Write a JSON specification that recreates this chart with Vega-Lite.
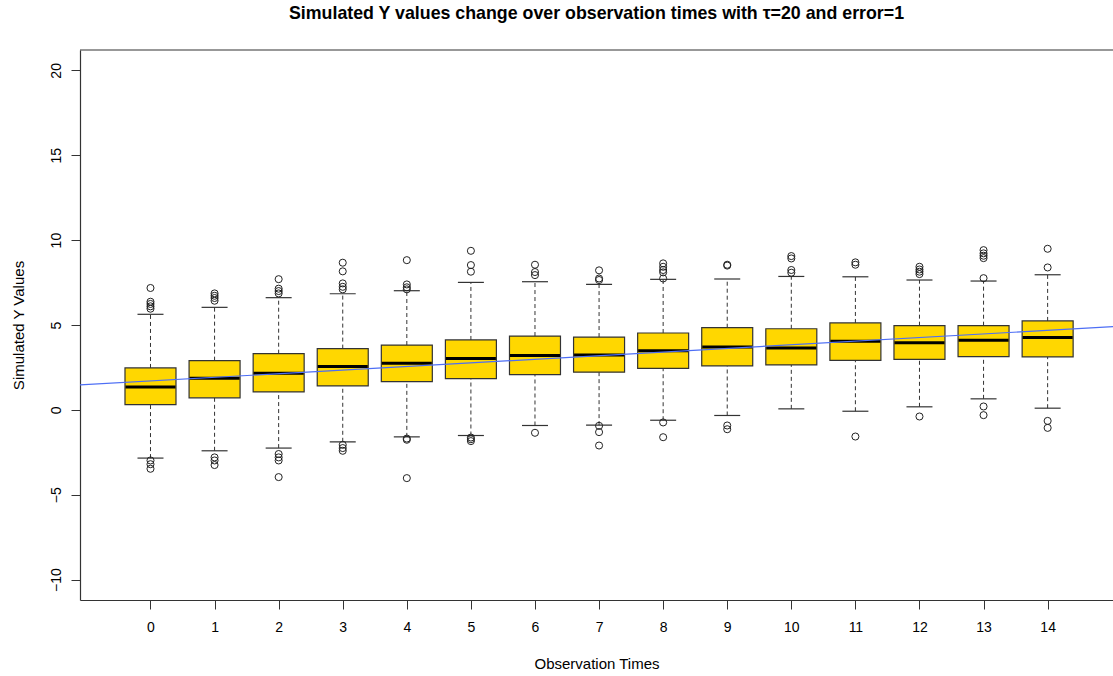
{
  "$schema": "https://vega.github.io/schema/vega-lite/v6.json",
  "width": 1033,
  "height": 550,
  "autosize": {"type": "none"},
  "padding": {"left": 80, "top": 50, "right": 0, "bottom": 76},
  "background": "white",
  "config": {"view": {"stroke": null}, "font": "Liberation Sans"},
  "title": {"text": "Simulated Y values change over observation times with τ=20 and error=1", "fontSize": 17.8, "fontWeight": "bold", "font": "Liberation Sans", "color": "#000", "anchor": "middle", "offset": 27},
  "datasets": {
    "boxes": [
      {"t": 0, "lo": -2.84, "q1": 0.31, "med": 1.35, "q3": 2.47, "hi": 5.63},
      {"t": 1, "lo": -2.41, "q1": 0.71, "med": 1.86, "q3": 2.9, "hi": 6.04},
      {"t": 2, "lo": -2.25, "q1": 1.06, "med": 2.16, "q3": 3.31, "hi": 6.61},
      {"t": 3, "lo": -1.88, "q1": 1.41, "med": 2.55, "q3": 3.61, "hi": 6.84},
      {"t": 4, "lo": -1.59, "q1": 1.67, "med": 2.75, "q3": 3.82, "hi": 7.02},
      {"t": 5, "lo": -1.51, "q1": 1.84, "med": 3.02, "q3": 4.12, "hi": 7.51},
      {"t": 6, "lo": -0.92, "q1": 2.08, "med": 3.2, "q3": 4.35, "hi": 7.55},
      {"t": 7, "lo": -0.9, "q1": 2.22, "med": 3.24, "q3": 4.29, "hi": 7.39},
      {"t": 8, "lo": -0.61, "q1": 2.45, "med": 3.49, "q3": 4.53, "hi": 7.69},
      {"t": 9, "lo": -0.33, "q1": 2.59, "med": 3.71, "q3": 4.84, "hi": 7.71},
      {"t": 10, "lo": 0.06, "q1": 2.65, "med": 3.65, "q3": 4.78, "hi": 7.86},
      {"t": 11, "lo": -0.08, "q1": 2.92, "med": 4.04, "q3": 5.12, "hi": 7.84},
      {"t": 12, "lo": 0.18, "q1": 2.98, "med": 3.96, "q3": 4.96, "hi": 7.65},
      {"t": 13, "lo": 0.65, "q1": 3.14, "med": 4.1, "q3": 4.96, "hi": 7.59},
      {"t": 14, "lo": 0.1, "q1": 3.12, "med": 4.27, "q3": 5.24, "hi": 7.96}
    ],
    "outliers": [
      {"t": 0, "v": 7.18}, {"t": 0, "v": 6.37}, {"t": 0, "v": 6.24}, {"t": 0, "v": 6.1}, {"t": 0, "v": 5.96}, {"t": 0, "v": -2.98}, {"t": 0, "v": -3.2}, {"t": 0, "v": -3.47},
      {"t": 1, "v": 6.86}, {"t": 1, "v": 6.72}, {"t": 1, "v": 6.59}, {"t": 1, "v": 6.43}, {"t": 1, "v": -2.8}, {"t": 1, "v": -2.98}, {"t": 1, "v": -3.25},
      {"t": 2, "v": 7.7}, {"t": 2, "v": 7.14}, {"t": 2, "v": 7.0}, {"t": 2, "v": 6.86}, {"t": 2, "v": -2.6}, {"t": 2, "v": -2.8}, {"t": 2, "v": -2.98}, {"t": 2, "v": -3.96},
      {"t": 3, "v": 8.67}, {"t": 3, "v": 8.16}, {"t": 3, "v": 7.45}, {"t": 3, "v": 7.25}, {"t": 3, "v": 7.1}, {"t": 3, "v": -2.06}, {"t": 3, "v": -2.25}, {"t": 3, "v": -2.41},
      {"t": 4, "v": 8.82}, {"t": 4, "v": 7.39}, {"t": 4, "v": 7.22}, {"t": 4, "v": 7.1}, {"t": 4, "v": -1.69}, {"t": 4, "v": -1.76}, {"t": 4, "v": -4.02},
      {"t": 5, "v": 9.37}, {"t": 5, "v": 8.53}, {"t": 5, "v": 8.14}, {"t": 5, "v": -1.63}, {"t": 5, "v": -1.73}, {"t": 5, "v": -1.84},
      {"t": 6, "v": 8.55}, {"t": 6, "v": 8.12}, {"t": 6, "v": 7.94}, {"t": 6, "v": -1.35},
      {"t": 7, "v": 8.22}, {"t": 7, "v": 7.74}, {"t": 7, "v": 7.65}, {"t": 7, "v": -0.94}, {"t": 7, "v": -1.31}, {"t": 7, "v": -2.1},
      {"t": 8, "v": 8.63}, {"t": 8, "v": 8.43}, {"t": 8, "v": 8.24}, {"t": 8, "v": 8.1}, {"t": 8, "v": 7.74}, {"t": 8, "v": -0.74}, {"t": 8, "v": -1.61},
      {"t": 9, "v": 8.55}, {"t": 9, "v": 8.5}, {"t": 9, "v": -0.92}, {"t": 9, "v": -1.14},
      {"t": 10, "v": 9.06}, {"t": 10, "v": 8.92}, {"t": 10, "v": 8.24}, {"t": 10, "v": 8.08},
      {"t": 11, "v": 8.69}, {"t": 11, "v": 8.55}, {"t": 11, "v": -1.57},
      {"t": 12, "v": 8.43}, {"t": 12, "v": 8.27}, {"t": 12, "v": 8.14}, {"t": 12, "v": 8.0}, {"t": 12, "v": -0.39},
      {"t": 13, "v": 9.41}, {"t": 13, "v": 9.22}, {"t": 13, "v": 9.08}, {"t": 13, "v": 8.94}, {"t": 13, "v": 7.76}, {"t": 13, "v": 0.2}, {"t": 13, "v": -0.31},
      {"t": 14, "v": 9.49}, {"t": 14, "v": 8.39}, {"t": 14, "v": -0.65}, {"t": 14, "v": -1.06}
    ],
    "fit": [
      {"t": -1.1, "v": 1.47},
      {"t": 15.1, "v": 4.92}
    ]
  },
  "layer": [
    {
      "data": {"name": "boxes"},
      "mark": {"type": "rule", "color": "#333", "strokeWidth": 1, "strokeDash": [4, 3]},
      "encoding": {
        "x": {"field": "t", "type": "quantitative",
          "scale": {"domain": [-1.1, 15.02], "nice": false, "zero": false, "padding": 0},
          "axis": {"title": "Observation Times", "values": [0,1,2,3,4,5,6,7,8,9,10,11,12,13,14], "format": "d", "grid": false,
            "tickSize": 9, "tickColor": "#333", "domainColor": "#333", "tickWidth": 1, "domainWidth": 1.2,
            "labelFontSize": 14, "labelColor": "#000", "labelPadding": 11, "labelFlush": false, "labelOverlap": false, "labelFont": "Liberation Sans",
            "titleFontSize": 15, "titleFontWeight": "normal", "titleColor": "#000", "titleFont": "Liberation Sans", "titleY": 63, "titleBaseline": "middle"}},
        "y": {"field": "lo", "type": "quantitative",
          "scale": {"domain": [-11.2, 21.2], "nice": false, "zero": false, "padding": 0},
          "axis": {"title": "Simulated Y Values", "values": [-10,-5,0,5,10,15,20], "format": "d", "grid": false,
            "tickSize": 9, "tickColor": "#333", "domainColor": "#333", "tickWidth": 1, "domainWidth": 1.2,
            "labelFontSize": 14, "labelColor": "#000", "labelPadding": 11, "labelAngle": 270, "labelAlign": "center", "labelBaseline": "alphabetic", "labelFlush": false, "labelOverlap": false, "labelFont": "Liberation Sans",
            "titleFontSize": 15, "titleFontWeight": "normal", "titleColor": "#000", "titleFont": "Liberation Sans", "titleX": -62, "titleY": 275, "titleAngle": 270, "titleAlign": "center", "titleBaseline": "middle"}},
        "y2": {"field": "q1"}
      }
    },
    {
      "data": {"name": "boxes"},
      "mark": {"type": "rule", "color": "#333", "strokeWidth": 1, "strokeDash": [4, 3]},
      "encoding": {
        "x": {"field": "t", "type": "quantitative"},
        "y": {"field": "q3", "type": "quantitative"},
        "y2": {"field": "hi"}
      }
    },
    {
      "data": {"name": "boxes"},
      "mark": {"type": "tick", "orient": "horizontal", "size": 26, "thickness": 1.2, "color": "#333", "opacity": 1},
      "encoding": {
        "x": {"field": "t", "type": "quantitative"},
        "y": {"field": "lo", "type": "quantitative"}
      }
    },
    {
      "data": {"name": "boxes"},
      "mark": {"type": "tick", "orient": "horizontal", "size": 26, "thickness": 1.2, "color": "#333", "opacity": 1},
      "encoding": {
        "x": {"field": "t", "type": "quantitative"},
        "y": {"field": "hi", "type": "quantitative"}
      }
    },
    {
      "data": {"name": "boxes"},
      "mark": {"type": "bar", "size": 51, "fill": "#FFD700", "stroke": "#333", "strokeWidth": 1.2, "opacity": 1},
      "encoding": {
        "x": {"field": "t", "type": "quantitative"},
        "y": {"field": "q1", "type": "quantitative"},
        "y2": {"field": "q3"}
      }
    },
    {
      "data": {"name": "boxes"},
      "mark": {"type": "tick", "orient": "horizontal", "size": 50, "thickness": 3, "color": "#000", "opacity": 1},
      "encoding": {
        "x": {"field": "t", "type": "quantitative"},
        "y": {"field": "med", "type": "quantitative"}
      }
    },
    {
      "data": {"name": "outliers"},
      "mark": {"type": "point", "shape": "circle", "filled": false, "size": 50, "stroke": "#222", "strokeWidth": 1, "opacity": 1},
      "encoding": {
        "x": {"field": "t", "type": "quantitative"},
        "y": {"field": "v", "type": "quantitative"}
      }
    },
    {
      "data": {"name": "fit"},
      "mark": {"type": "line", "color": "#4d6ef5", "strokeWidth": 1.2, "clip": true},
      "encoding": {
        "x": {"field": "t", "type": "quantitative"},
        "y": {"field": "v", "type": "quantitative"}
      }
    },
    {
      "data": {"values": [{}]},
      "mark": {"type": "rule", "color": "#333", "strokeWidth": 1.2},
      "encoding": {"y": {"datum": 21.2}}
    }
  ]
}
